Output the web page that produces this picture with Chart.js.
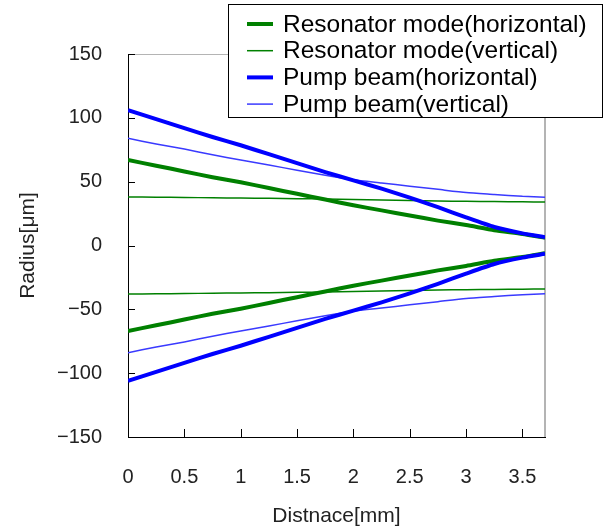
<!DOCTYPE html>
<html><head><meta charset="utf-8">
<script src="https://cdn.jsdelivr.net/npm/chart.js@4"></script>
<style>html,body{margin:0;padding:0;background:#fff}canvas{display:block}</style>
</head><body>
<canvas id="c" width="605" height="529"></canvas>
<script>
// ---- data ----
const distance = [0, 0.25, 0.5, 0.75, 1, 1.25, 1.5, 1.75, 2, 2.25, 2.5, 2.75, 3, 3.25, 3.5, 3.7];
const resonatorHorizontalUpper = [67, 62.5, 58, 53.5, 49.5, 45, 40.5, 36, 31.5, 27.5, 23.5, 19.5, 16, 12, 9, 6];
const resonatorHorizontalLower = [-67, -62.5, -58, -53.5, -49.5, -45, -40.5, -36, -31.5, -27.5, -23.5, -19.5, -16, -12, -9, -6];
const resonatorVerticalUpper = [38, 37.8, 37.6, 37.4, 37.2, 37, 36.7, 36.4, 36, 35.6, 35.2, 34.9, 34.6, 34.4, 34.2, 34];
const resonatorVerticalLower = [-38, -37.8, -37.6, -37.4, -37.2, -37, -36.7, -36.4, -36, -35.6, -35.2, -34.9, -34.6, -34.4, -34.2, -34];
const pumpHorizontalUpper = [106, 99, 92, 85, 78.5, 71.5, 64.5, 57.5, 51, 44.5, 37.5, 30, 22, 14.5, 9.5, 6.5];
const pumpHorizontalLower = [-106, -99, -92, -85, -78.5, -71.5, -64.5, -57.5, -51, -44.5, -37.5, -30, -22, -14.5, -9.5, -6.5];
const pumpVerticalUpper = [84, 79.5, 75.5, 71, 67, 63, 59, 55, 51.5, 49, 46.5, 44, 41.5, 40, 38.5, 37.8];
const pumpVerticalLower = [-84, -79.5, -75.5, -71, -67, -63, -59, -55, -51.5, -49, -46.5, -44, -41.5, -40, -38.5, -37.8];
const seriesNames = ['Resonator mode(horizontal)', 'Resonator mode(vertical)', 'Pump beam(horizontal)', 'Pump beam(vertical)'];
const xTickValues = [0, 0.5, 1, 1.5, 2, 2.5, 3, 3.5];
const yTickValues = [-150, -100, -50, 0, 50, 100, 150];
const xTitle = 'Distnace[mm]';
const yTitle = 'Radius[\u03bcm]';

// ---- styles ----
const FONT = '"Liberation Sans", Arial, sans-serif';
const styles = [
  {color: '#008000', width: 4},
  {color: '#008000', width: 1.5},
  {color: '#0000ff', width: 4},
  {color: '#3a3aff', width: 1.5}
];
const pairs = [
  [resonatorHorizontalUpper, resonatorHorizontalLower],
  [resonatorVerticalUpper, resonatorVerticalLower],
  [pumpHorizontalUpper, pumpHorizontalLower],
  [pumpVerticalUpper, pumpVerticalLower]
];
const drawOrder = [2, 0, 3, 1]; // first = on top
const toPts = arr => distance.map((x, i) => ({x: x, y: arr[i]}));
const datasets = [];
drawOrder.forEach(k => {
  pairs[k].forEach((arr, j) => {
    datasets.push({
      label: seriesNames[k],
      data: toPts(arr),
      borderColor: styles[k].color,
      backgroundColor: styles[k].color,
      borderWidth: styles[k].width,
      pointRadius: 0,
      tension: 0.2,
      fill: false,
      seriesIndex: k,
      legendEntry: j === 0
    });
  });
});

const framePlugin = {
  id: 'frame',
  beforeDatasetsDraw(chart) {
    const {ctx, chartArea: a, scales} = chart;
    ctx.save();
    ctx.strokeStyle = '#b4b4b4';
    ctx.lineWidth = 1;
    ctx.beginPath();
    ctx.moveTo(a.left, a.top + 0.5); ctx.lineTo(a.right, a.top + 0.5);
    ctx.stroke();
    ctx.lineWidth = 2;
    ctx.beginPath();
    ctx.moveTo(a.right, a.top); ctx.lineTo(a.right, a.bottom);
    ctx.stroke();
    ctx.strokeStyle = '#000';
    ctx.lineWidth = 1;
    ctx.beginPath();
    yTickValues.forEach(v => {
      const y = Math.round(scales.y.getPixelForValue(v)) + 0.5;
      ctx.moveTo(a.left, y); ctx.lineTo(a.left + 7, y);
    });
    xTickValues.forEach(v => {
      const x = Math.round(scales.x.getPixelForValue(v)) + 0.5;
      ctx.moveTo(x, a.bottom); ctx.lineTo(x, a.bottom - 8);
    });
    ctx.stroke();
    ctx.restore();
  },
  afterDraw(chart) {
    const {ctx} = chart;
    ctx.save();
    ctx.fillStyle = '#fff';
    ctx.strokeStyle = '#000';
    ctx.lineWidth = 1;
    ctx.fillRect(228, 4, 375, 114);
    ctx.strokeRect(228.5, 4.5, 374, 113);
    ctx.font = '24.5px ' + FONT;
    ctx.textBaseline = 'middle';
    ctx.fillStyle = '#000';
    seriesNames.forEach((name, i) => {
      const y = 24 + i * 26.7;
      const ds = chart.data.datasets.find(d => d.seriesIndex === i && d.legendEntry);
      ctx.strokeStyle = ds.borderColor;
      ctx.lineWidth = ds.borderWidth;
      ctx.beginPath();
      ctx.moveTo(247, y); ctx.lineTo(273, y);
      ctx.stroke();
      ctx.fillText(ds.label, 283, y + 1);
    });
    ctx.restore();
  }
};

new Chart(document.getElementById('c'), {
  type: 'line',
  data: {datasets: datasets},
  options: {
    responsive: false,
    animation: false,
    devicePixelRatio: 1,
    layout: {padding: {top: 54, right: 60, left: 0, bottom: 0}},
    plugins: {legend: {display: false}, tooltip: {enabled: false}},
    scales: {
      x: {
        type: 'linear', min: 0, max: 3.7,
        grid: {display: false, drawTicks: false},
        border: {display: true, color: '#000', width: 1},
        afterBuildTicks: s => { s.ticks = xTickValues.map(v => ({value: v})); },
        afterFit: s => { s.height = 92; },
        ticks: {padding: 28, color: '#222', font: {family: FONT, size: 20}, maxRotation: 0,
                callback: v => String(v)},
        title: {display: true, text: xTitle, color: '#222', font: {family: FONT, size: 21},
                padding: {top: 0, bottom: 0}}
      },
      y: {
        type: 'linear', min: -150, max: 150,
        grid: {display: false, drawTicks: false},
        border: {display: true, color: '#000', width: 1},
        afterBuildTicks: s => { s.ticks = yTickValues.map(v => ({value: v})); },
        afterFit: s => { s.width = 128; },
        ticks: {padding: 26, color: '#222', font: {family: FONT, size: 20},
                callback: v => (v < 0 ? '\u2212' + Math.abs(v) : String(v))},
        title: {display: true, text: yTitle, color: '#222', font: {family: FONT, size: 21},
                padding: {top: 16, bottom: 0}}
      }
    }
  },
  plugins: [framePlugin]
});
</script>
</body></html>
